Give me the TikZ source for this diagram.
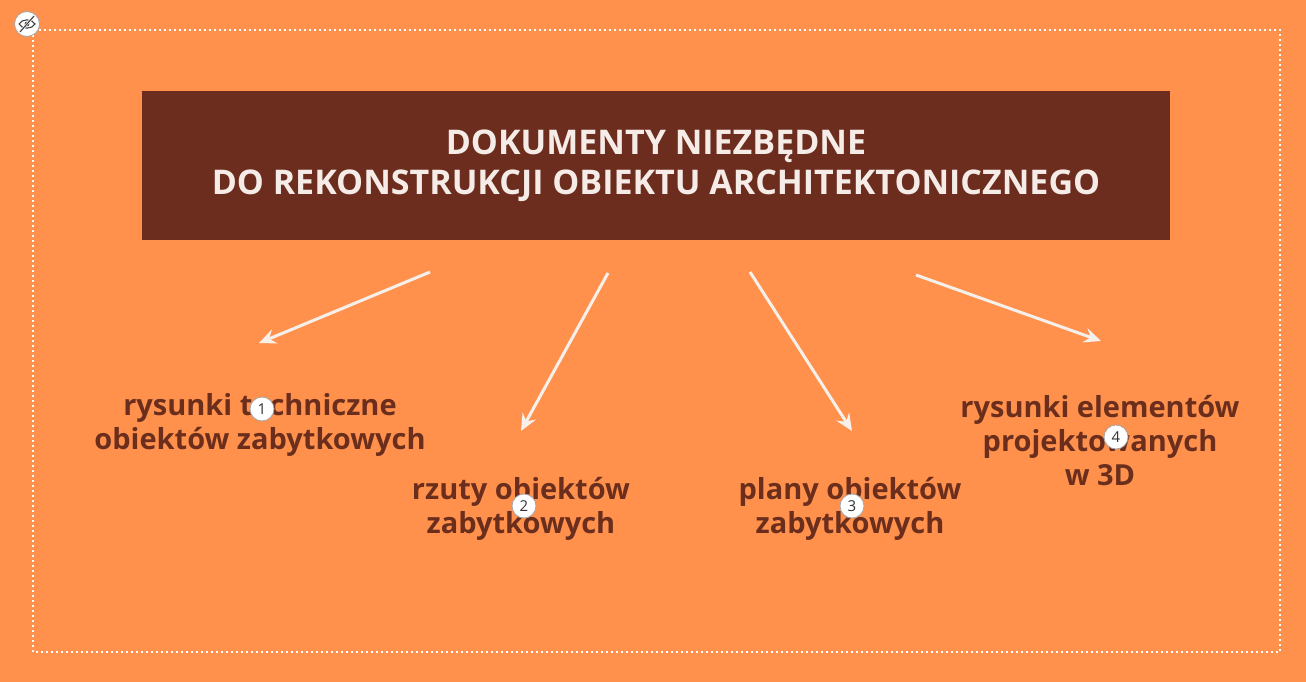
\documentclass[tikz,border=0pt]{standalone}
\usepackage{fontspec}
\setmainfont{Open Sans}
\usetikzlibrary{arrows.meta}
\definecolor{bgorange}{HTML}{FF914D}
\definecolor{boxbrown}{HTML}{6D2D1E}
\definecolor{textbrown}{HTML}{6B2E1C}
\definecolor{arrowwhite}{HTML}{F7EFEA}
\definecolor{titlewhite}{HTML}{F5ECE8}
\tikzset{
  titlebox/.style={fill=boxbrown, minimum width=1028pt, minimum height=149pt, inner sep=0pt,
    text=titlewhite, align=center, font=\bfseries\fontsize{34}{40}\selectfont},
  doclabel/.style={text=textbrown, align=center, inner sep=0pt,
    font=\bfseries\fontsize{29}{34}\selectfont},
  badge/.style={circle, fill=white, draw=gray!70, line width=0.8pt, minimum size=24pt,
    inner sep=0pt, text=black!80, font=\fontsize{15}{15}\selectfont},
  pointer/.style={draw=arrowwhite, line width=3pt, -{Stealth[length=17pt, width=15pt, inset=6pt]}}
}
\begin{document}
\begin{tikzpicture}[x=1pt, y=-1pt]
%background and frame
\useasboundingbox (0,0) rectangle (1306,682);
\fill [bgorange] (0,0) rectangle (1306,682);
\draw [white, line width=2pt, dash pattern=on 2pt off 3pt] (33,30) rectangle (1280,652);
%hide icon
\node [badge, minimum size=25pt] (icon) at (27,24) {};
\draw [black!75, line width=1.1pt] (19,24) .. controls (22,18.5) and (32,18.5) .. (35,24)
  .. controls (32,29.5) and (22,29.5) .. (19,24);
\fill [black!75] (27,24) circle (2.4pt);
\draw [white, line width=2.4pt] (20,32) -- (34,16);
\draw [black!75, line width=1.1pt] (20,32) -- (34,16);
%title
\node [titlebox] (title) at (656,165.5) {DOKUMENTY NIEZBĘDNE\\DO REKONSTRUKCJI OBIEKTU ARCHITEKTONICZNEGO};
%labels
\node [doclabel] (rysunki) at (260,425) {rysunki techniczne\\obiektów zabytkowych};
\node [doclabel] (rzuty) at (521,509) {rzuty obiektów\\zabytkowych};
\node [doclabel] (plany) at (850,509) {plany obiektów\\zabytkowych};
\node [doclabel] (elementy) at (1100,441) {rysunki elementów\\projektowanych\\w 3D};
%arrow ends
\coordinate (S1) at (430,272);
\coordinate (E1) at (259,343);
\coordinate (S2) at (608,273);
\coordinate (E2) at (521,431);
\coordinate (S3) at (750,272);
\coordinate (E3) at (852,431);
\coordinate (S4) at (916,275);
\coordinate (E4) at (1101,341);
\draw [pointer] (S1) -- (E1);
\draw [pointer] (S2) -- (E2);
\draw [pointer] (S3) -- (E3);
\draw [pointer] (S4) -- (E4);
%numbers
\node [badge] (n1) at (262,409) {1};
\node [badge] (n2) at (524,506) {2};
\node [badge] (n3) at (852,506) {3};
\node [badge] (n4) at (1116,437) {4};
\end{tikzpicture}
\end{document}
